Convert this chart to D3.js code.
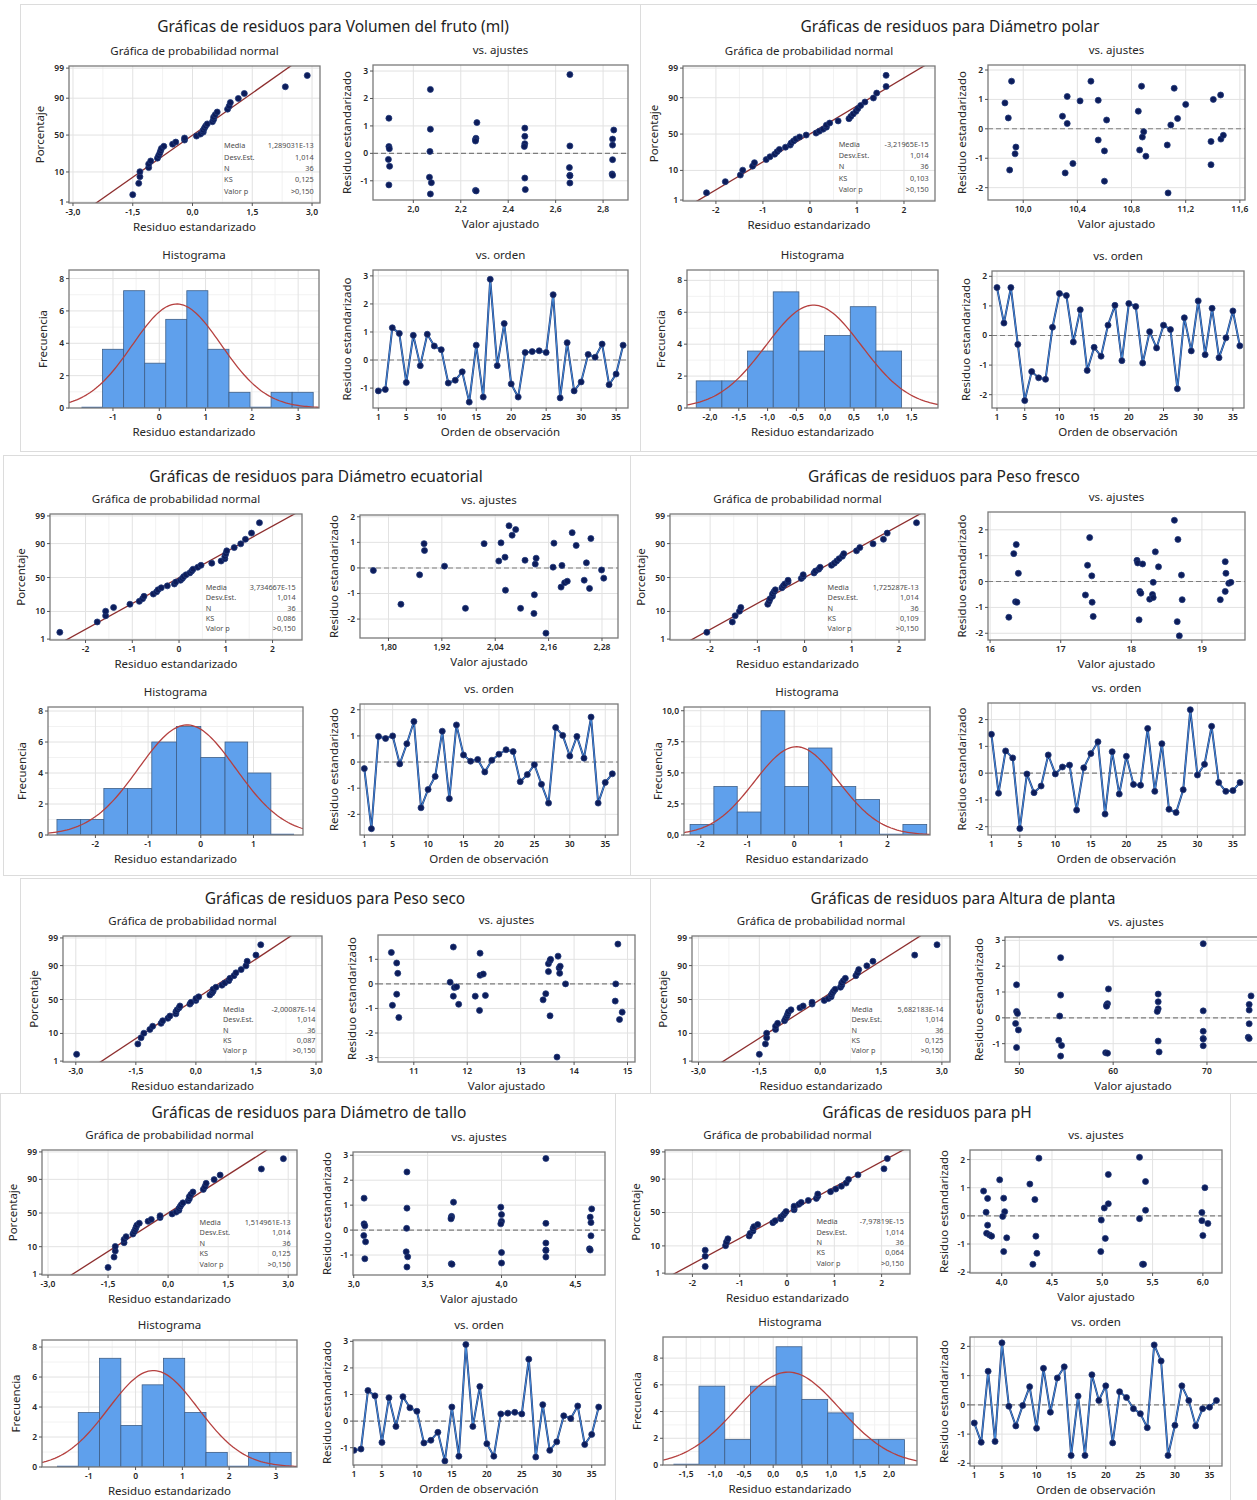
<!DOCTYPE html>
<html>
<head>
<meta charset="utf-8">
<script src="https://cdn.jsdelivr.net/npm/d3@7"></script>
<style>
  body { margin: 0; background: #fff; }
  svg text { font-family: "Noto Sans", "Open Sans", sans-serif; fill: #262626; }
</style>
</head>
<body>
<svg id="chart" width="1257" height="1500"></svg>
<script>
// ---- datos ----

// Volumen del fruto (mismos residuos en Diámetro de tallo y Altura de planta)
const ordenVolumen = [-1.1, -1.05, 1.15, 0.95, -0.8, 0.88, -0.2, 0.92, 0.5, 0.37, -0.82, -0.72, -0.42, -1.5, 0.53, -1.32, 2.88, -0.2,
  1.3, -0.85, -1.32, 0.27, 0.3, 0.33, 0.27, 2.33, -1.35, 0.62, -1.1, -0.78, 0.2, 0.1, 0.57, -0.88, -0.5, 0.53];
const ajusteResidVolumen = [1.28, 0.25, 0.17, -0.22, -0.47, -1.15, 2.33, 0.88, 0.07, -0.87, -1.07, -1.48, 1.12, 0.55, 0.5, 0.45, -1.35, -1.37,
  0.92, 0.62, 0.35, 0.25, -0.9, -1.32, 2.87, 0.27, -0.52, -0.8, -0.82, -1.08, 0.85, 0.52, 0.3, -0.23, -0.75, -0.8];
const ajusteVolumen = [1.897, 1.897, 1.899, 1.895, 1.9, 1.897, 2.072, 2.072, 2.07, 2.068, 2.076, 2.072, 2.268, 2.264, 2.262, 2.262, 2.262, 2.265,
  2.47, 2.47, 2.47, 2.468, 2.47, 2.472, 2.66, 2.66, 2.658, 2.66, 2.66, 2.66, 2.845, 2.84, 2.84, 2.84, 2.838, 2.84];
const ajusteTallo = [3.07, 3.07, 3.075, 3.068, 3.08, 3.075, 3.36, 3.36, 3.358, 3.355, 3.365, 3.36, 3.675, 3.662, 3.66, 3.658, 3.66, 3.665,
  3.995, 4.0, 4.0, 3.995, 4.0, 4.0, 4.3, 4.3, 4.3, 4.3, 4.3, 4.3, 4.61, 4.6, 4.605, 4.605, 4.595, 4.6];
const ajusteAltura = [49.7, 49.7, 49.8, 49.6, 49.9, 49.7, 54.4, 54.4, 54.3, 54.2, 54.5, 54.4, 59.5, 59.4, 59.3, 59.3, 59.2, 59.4,
  64.8, 64.8, 64.8, 64.7, 64.8, 64.9, 69.6, 69.6, 69.6, 69.6, 69.6, 69.6, 74.7, 74.5, 74.5, 74.5, 74.4, 74.5];
const histVolumenBordes = [-1.68, -1.225, -0.77, -0.315, 0.14, 0.595, 1.05, 1.505, 1.96, 2.415, 2.87, 3.325];
const histVolumenAlturas = [0, 3.63, 7.25, 2.77, 5.48, 7.25, 3.63, 0.97, 0, 0.97, 0.97];
const curvaVolumen = [0.38, 0.96, 6.43]; // media, desv., altura máxima

// Diámetro polar
const ordenPolar = [1.62, 0.42, 1.62, -0.3, -2.2, -1.22, -1.43, -1.48, 0.28, 1.42, 1.35, -0.22, 0.87, -1.18, -0.4, -0.7, 0.35, 1.02,
  -0.85, 1.08, 0.98, -0.93, 0.13, -0.42, 0.35, 0.2, -1.8, 0.6, -0.52, 1.17, -0.65, 0.92, -0.75, -0.08, 0.83, -0.35];
const ajustePolar = [9.865, 9.89, 9.914, 9.9, 9.946, 9.94, 10.29, 10.325, 10.325, 10.31, 10.367, 10.42, 10.5, 10.554, 10.554, 10.616, 10.6, 10.6,
  10.85, 10.874, 10.89, 10.88, 10.86, 10.906, 11.064, 11.07, 11.09, 11.115, 11.14, 11.2, 11.387, 11.387, 11.404, 11.458, 11.46, 11.478];
const ajusteResidPolar = [0.88, 0.37, 1.62, -1.4, -0.62, -0.85, 0.43, 1.1, 0.18, -1.5, -1.18, 0.95, 1.62, 0.97, -0.38, 0.3, -0.75, -1.78,
  0.6, 1.45, -0.1, -0.28, -0.72, -0.93, -0.55, -2.18, 0.13, 1.38, 0.35, 0.83, -0.43, -1.22, 1.0, 1.15, -0.35, -0.22];
const histPolarBordes = [-2.24, -1.794, -1.348, -0.902, -0.456, -0.01, 0.436, 0.882, 1.328];
const histPolarAlturas = [1.7, 1.7, 3.57, 7.28, 3.57, 4.54, 6.35, 3.57];
const curvaPolar = [-0.2, 0.83, 6.45];

// Diámetro ecuatorial
const ordenEcuatorial = [-0.25, -2.55, 0.98, 0.9, 1.0, -0.07, 0.7, 1.55, -1.75, -1.05, -0.55, 1.18, -1.4, 1.42, 0.27, 0.03, 0.1, -0.38,
  0.07, 0.3, 0.47, 0.4, -0.75, -0.48, -0.1, -0.85, -1.57, 1.32, 1.02, 0.23, 0.98, 0.15, 1.72, -1.57, -0.78, -0.45];
const ajusteEcuatorial = [1.766, 1.828, 1.87, 1.88, 1.881, 1.926, 1.973, 2.015, 2.048, 2.053, 2.062, 2.063, 2.071, 2.078, 2.086, 2.097, 2.107, 2.127,
  2.128, 2.13, 2.132, 2.154, 2.17, 2.172, 2.188, 2.19, 2.196, 2.202, 2.213, 2.222, 2.24, 2.245, 2.252, 2.255, 2.279, 2.284];
const ajusteResidEcuatorial = [-0.1, -1.42, -0.27, 0.95, 0.68, 0.07, -1.58, 0.95, 0.27, 0.98, 0.42, -0.87, 1.65, 1.28, 1.5, -1.58, 0.3, -1.78,
  -1.05, 0.15, 0.38, -2.55, 0.03, 0.97, -0.75, 0.1, -0.58, -0.52, 1.38, 0.88, -0.48, 0.2, -0.8, 1.15, -0.08, -0.4];
const histEcuatorialBordes = [-2.73, -2.28, -1.84, -1.39, -0.93, -0.46, 0.0, 0.46, 0.89, 1.33, 1.77];
const histEcuatorialAlturas = [1, 1, 3, 3, 6, 7, 5, 6, 4, 0];
const curvaEcuatorial = [-0.26, 0.92, 7.1];

// Peso fresco
const ordenFresco = [1.45, -0.75, 0.83, 0.57, -2.07, -0.03, -0.73, -0.48, 0.68, -0.03, 0.23, 0.3, -1.38, 0.2, 0.73, 1.17, -1.53, 0.8,
  -0.78, 0.63, -0.42, -0.45, 1.67, -0.68, 1.1, -1.35, -1.47, -0.62, 2.37, -0.07, 0.33, 1.75, -0.35, -0.68, -0.65, -0.35];
const ajusteFresco = [16.265, 16.335, 16.37, 16.36, 16.38, 16.4, 17.35, 17.38, 17.41, 17.44, 17.445, 17.46, 18.08, 18.09, 18.11, 18.12, 18.135, 18.16,
  18.26, 18.3, 18.31, 18.31, 18.34, 18.385, 18.61, 18.66, 18.65, 18.68, 18.71, 18.72, 19.26, 19.33, 19.33, 19.34, 19.38, 19.41];
const ajusteResidFresco = [-1.38, 1.08, 1.43, -0.78, -0.8, 0.32, -0.52, 0.63, 1.7, 0.22, -0.8, -1.35, 0.82, 0.72, -1.48, -0.38, -0.45, 0.68,
  -0.68, -0.5, -0.62, -0.03, 1.15, 0.57, 2.37, 1.63, -1.55, -2.1, 0.25, -0.7, -0.7, -0.38, 0.77, 0.32, -0.07, -0.03];
const histFrescoBordes = [-2.23, -1.72, -1.22, -0.71, -0.2, 0.31, 0.81, 1.32, 1.83, 2.33, 2.84];
const histFrescoAlturas = [0.85, 3.9, 1.85, 10, 3.9, 7, 3.9, 2.85, 0, 0.85];
const curvaFresco = [0.05, 0.9, 7.1];

// Peso seco (solo gráficas superiores)
const ajusteSeco = [10.58, 10.68, 10.7, 10.68, 10.6, 10.72, 11.68, 11.74, 11.76, 11.8, 11.74, 11.84, 12.15, 12.24, 12.24, 12.3, 12.34, 12.23,
  13.42, 13.47, 13.52, 13.55, 13.56, 13.52, 13.55, 13.68, 13.7, 13.72, 13.74, 13.73, 13.84, 14.78, 14.82, 14.77, 14.9, 14.85];
const ajusteResidSeco = [1.28, 0.85, 0.43, -0.42, -0.87, -1.37, 0.07, 1.5, -0.15, -0.12, -0.5, -0.83, -0.5, 1.25, 0.35, 0.4, -0.47, -1.08,
  -0.65, -0.4, 0.82, 0.95, 1.0, 0.5, -1.3, -2.98, 1.13, 0.65, 0.72, 0.43, 0.0, 0.0, 1.62, -0.7, -1.15, -1.45];

// pH
const ordenPH = [-0.62, -1.28, 1.15, -1.25, 2.12, -0.05, -0.72, -0.02, 0.62, -0.8, 1.25, -0.25, 0.92, 1.3, -1.73, 0.3, -1.73, 1.03,
  0.15, 0.65, -1.3, 0.45, 0.25, -0.13, -0.3, -0.78, 2.05, 1.5, -1.73, -0.7, 0.65, 0.15, -0.72, -0.13, -0.08, 0.15];
const ajustePH = [3.82, 3.86, 3.845, 3.86, 3.85, 3.88, 3.9, 3.98, 4.02, 4.03, 4.01, 4.02, 4.05, 4.28, 4.33, 4.37, 4.34, 4.35, 4.31,
  4.99, 5.02, 5.06, 5.06, 5.03, 4.985, 5.37, 5.37, 5.43, 5.43, 5.4, 5.41, 5.99, 6.02, 5.99, 6.05, 6.0];
const ajusteResidPH = [0.88, 0.62, 0.13, -0.33, -0.62, -0.68, -0.72, 1.28, 0.63, 0.15, -0.02, -1.27, -0.78, 1.13, 0.58, 2.05, -0.72, -1.33, -1.72,
  -0.15, 0.28, 0.43, 1.47, -0.8, -1.27, 2.08, -0.1, 1.22, 0.2, -1.72, -1.72, 0.12, 1.0, -0.17, -0.27, -0.7];
const histPHBordes = [-1.72, -1.28, -0.835, -0.39, 0.05, 0.495, 0.94, 1.38, 1.82, 2.265];
const histPHAlturas = [0, 5.9, 1.9, 5.9, 8.85, 4.9, 3.9, 1.9, 1.9];
const curvaPH = [0.26, 0.89, 6.95];

// cuadros de estadísticos
const estadNombres = ["Media", "Desv.Est.", "N", "KS", "Valor p"];
const estadVolumen = ["1,289031E-13", "1,014", "36", "0,125", ">0,150"];
const estadPolar = ["-3,21965E-15", "1,014", "36", "0,103", ">0,150"];
const estadEcuatorial = ["3,734667E-15", "1,014", "36", "0,086", ">0,150"];
const estadFresco = ["1,725287E-13", "1,014", "36", "0,109", ">0,150"];
const estadSeco = ["-2,00087E-14", "1,014", "36", "0,087", ">0,150"];
const estadAltura = ["5,682183E-14", "1,014", "36", "0,125", ">0,150"];
const estadTallo = ["1,514961E-13", "1,014", "36", "0,125", ">0,150"];
const estadPH = ["-7,97819E-15", "1,014", "36", "0,064", ">0,150"];

const probPorcentajes = [1, 10, 50, 90, 99];
const ordenTicks = [1, 5, 10, 15, 20, 25, 30, 35];

// ---- utilidades ----
const svg = d3.select("#chart");
const loc = d3.formatLocale({ decimal: ",", thousands: ".", grouping: [3], currency: ["", ""], minus: "-" });
const fmt = dec => loc.format(`.${dec}f`);
let nClip = 0;

// inversa de la normal (aproximación de Acklam)
function probit(p) {
  const a = [-39.69683028665376, 220.9460984245205, -275.9285104469687, 138.3577518672690, -30.66479806614716, 2.506628277459239];
  const b = [-54.47609879822406, 161.5858368580409, -155.6989798598866, 66.80131188771972, -13.28068155288572];
  const c = [-0.007784894002430293, -0.3223964580411365, -2.400758277161838, -2.549732539343734, 4.374664141464968, 2.938163982698783];
  const d = [0.007784695709041462, 0.3224671290700398, 2.445134137142996, 3.754408661907416];
  const lo = 0.02425;
  if (p < lo) {
    const q = Math.sqrt(-2 * Math.log(p));
    return (((((c[0] * q + c[1]) * q + c[2]) * q + c[3]) * q + c[4]) * q + c[5]) / ((((d[0] * q + d[1]) * q + d[2]) * q + d[3]) * q + 1);
  }
  if (p > 1 - lo) return -probit(1 - p);
  const q = p - 0.5, r = q * q;
  return (((((a[0] * r + a[1]) * r + a[2]) * r + a[3]) * r + a[4]) * r + a[5]) * q /
    (((((b[0] * r + b[1]) * r + b[2]) * r + b[3]) * r + b[4]) * r + 1);
}

const medios = t => t.slice(1).map((d, i) => (d + t[i]) / 2);

// marco de una gráfica: rejilla, borde, marcas, rótulos
function marco(f, xDom, yDom, o) {
  const [x0, y0, w, h] = f;
  const x = d3.scaleLinear().domain(xDom).range([x0, x0 + w]);
  const y = d3.scaleLinear().domain(yDom).range([y0 + h, y0]);
  const g = svg.append("g");
  const vert = (vals, col) => g.append("g").selectAll("line").data(vals.filter(d => x(d) > x0 && x(d) < x0 + w)).join("line")
    .attr("x1", d => x(d)).attr("x2", d => x(d)).attr("y1", y0).attr("y2", y0 + h).attr("stroke", col);
  const hori = (vals, col) => g.append("g").selectAll("line").data(vals.filter(d => y(d) > y0 && y(d) < y0 + h)).join("line")
    .attr("y1", d => y(d)).attr("y2", d => y(d)).attr("x1", x0).attr("x2", x0 + w).attr("stroke", col);
  if (o.xMenor) vert(o.xMenor, "#f2f2f2");
  if (o.yMenor) hori(o.yMenor, "#f2f2f2");
  vert(o.xt, "#e2e2e2");
  hori(o.yt, "#e2e2e2");

  const id = "clip" + (nClip++);
  g.append("clipPath").attr("id", id).append("rect").attr("x", x0).attr("y", y0).attr("width", w).attr("height", h);
  const marcas = g.append("g").attr("clip-path", `url(#${id})`);

  g.append("rect").attr("x", x0).attr("y", y0).attr("width", w).attr("height", h)
    .attr("fill", "none").attr("stroke", "#7a7a7a").attr("stroke-width", 1.3);

  // marcas y etiquetas del eje x
  g.append("g").selectAll("line").data(o.xt).join("line")
    .attr("x1", d => x(d)).attr("x2", d => x(d)).attr("y1", y0 + h).attr("y2", y0 + h + 3).attr("stroke", "#555");
  g.append("g").selectAll("text").data(o.xt).join("text")
    .attr("x", d => x(d)).attr("y", y0 + h + 12).attr("text-anchor", "middle")
    .attr("font-size", 8.5).attr("font-weight", 600).text(o.xFmt);
  // marcas y etiquetas del eje y
  g.append("g").selectAll("line").data(o.yt).join("line")
    .attr("y1", d => y(d)).attr("y2", d => y(d)).attr("x1", x0 - 3).attr("x2", x0).attr("stroke", "#555");
  g.append("g").selectAll("text").data(o.yt).join("text")
    .attr("x", x0 - 5).attr("y", d => y(d)).attr("dy", "0.35em").attr("text-anchor", "end")
    .attr("font-size", 8.5).attr("font-weight", 600).text(o.yFmt);

  // títulos
  g.append("text").attr("x", x0 + w / 2).attr("y", y0 - 11).attr("text-anchor", "middle")
    .attr("font-size", 11.5).text(o.sub);
  g.append("text").attr("x", x0 + Math.min(w, 1257 - x0) / 2 + (o.xTitDx || 0)).attr("y", y0 + h + 28).attr("text-anchor", "middle")
    .attr("font-size", 11.5).text(o.xTit);
  g.append("text").attr("transform", `translate(${x0 - (o.yTitOff || 22)},${y0 + h / 2}) rotate(-90)`)
    .attr("text-anchor", "middle").attr("font-size", 11.5).text(o.yTit);

  return { x, y, marcas, g };
}

function puntos(sel, xs, ys, x, y) {
  sel.append("g").selectAll("circle").data(xs).join("circle")
    .attr("cx", d => x(d)).attr("cy", (d, i) => y(ys[i])).attr("r", 3)
    .attr("fill", "#0c1c5a").attr("stroke", "#223a7a").attr("stroke-width", 0.8);
}

function lineaCero(sel, x, y) {
  const [a, b] = x.domain();
  sel.append("line").attr("x1", x(a)).attr("x2", x(b)).attr("y1", y(0)).attr("y2", y(0))
    .attr("stroke", "#7d7d7d").attr("stroke-width", 1.1).attr("stroke-dasharray", "5,3");
}

// ---- gráficas ----
function graficaProb(c, resid, estad) {
  const zDom = [-2.36, 2.40];
  const m = marco(c.f, c.x, zDom, {
    xt: c.xt, yt: probPorcentajes.map(p => probit(p / 100)), xMenor: medios(c.xt),
    xFmt: fmt(c.dec), yFmt: (d, i) => probPorcentajes[i],
    sub: "Gráfica de probabilidad normal", xTit: "Residuo estandarizado", yTit: "Porcentaje", yTitOff: 25
  });
  const orden = resid.slice().sort(d3.ascending);
  const n = orden.length;
  const z = orden.map((d, i) => probit((i + 1 - 0.3) / (n + 0.4)));
  const media = d3.mean(resid), de = d3.deviation(resid);
  m.marcas.append("line")
    .attr("x1", m.x(media - 3 * de)).attr("y1", m.y(-3))
    .attr("x2", m.x(media + 3 * de)).attr("y2", m.y(3))
    .attr("stroke", "#8e2f2f").attr("stroke-width", 1.3);
  puntos(m.marcas, orden, z, m.x, m.y);

  const [x0, y0, w, h] = c.f;
  const caja = m.g.append("g").attr("font-size", 7.3);
  estadNombres.forEach((t, i) => {
    const yy = y0 + h * (0.6 + i * 0.083);
    caja.append("text").attr("x", x0 + w * 0.618).attr("y", yy).attr("fill", "#4d4d4d").style("fill", "#4d4d4d").text(t);
    caja.append("text").attr("x", x0 + w * 0.975).attr("y", yy).attr("text-anchor", "end").style("fill", "#4d4d4d").text(estad[i]);
  });
}

function graficaAjustes(c) {
  const m = marco(c.f, c.x, c.y, {
    xt: c.xt, yt: c.yt, xFmt: fmt(c.dec), yFmt: fmt(0),
    sub: "vs. ajustes", xTit: "Valor ajustado", yTit: "Residuo estandarizado", xTitDx: c.xTitDx
  });
  lineaCero(m.marcas, m.x, m.y);
  puntos(m.marcas, c.px, c.py, m.x, m.y);
}

function graficaHist(c) {
  const m = marco(c.f, c.x, c.y, {
    xt: c.xt, yt: c.yt, xMenor: medios(c.xt), yMenor: medios(c.yt),
    xFmt: fmt(c.dec), yFmt: fmt(c.ydec),
    sub: "Histograma", xTit: "Residuo estandarizado", yTit: "Frecuencia"
  });
  const bins = c.alturas.map((a, i) => ({ x0: c.bordes[i], x1: c.bordes[i + 1], a }));
  m.marcas.append("g").selectAll("rect").data(bins.filter(b => b.a > 0)).join("rect")
    .attr("x", b => m.x(b.x0)).attr("width", b => m.x(b.x1) - m.x(b.x0))
    .attr("y", b => m.y(b.a)).attr("height", b => m.y(0) - m.y(b.a))
    .attr("fill", "#5fa0ec").attr("stroke", "#3e5f88").attr("stroke-width", 0.8);
  m.marcas.append("g").selectAll("line").data(bins.filter(b => b.a === 0)).join("line")
    .attr("x1", b => m.x(b.x0)).attr("x2", b => m.x(b.x1)).attr("y1", m.y(0) - 0.5).attr("y2", m.y(0) - 0.5)
    .attr("stroke", "#3f6fb0").attr("stroke-width", 1.5);
  const [mu, s, pico] = c.curva;
  const xs = d3.range(c.x[0], c.x[1] + 0.01, (c.x[1] - c.x[0]) / 120);
  m.marcas.append("path")
    .attr("d", d3.line().x(d => m.x(d)).y(d => m.y(pico * Math.exp(-((d - mu) ** 2) / (2 * s * s))))(xs))
    .attr("fill", "none").attr("stroke", "#b5403f").attr("stroke-width", 1.3);
}

function graficaOrden(c, resid) {
  const m = marco(c.f, c.x, c.y, {
    xt: ordenTicks, yt: c.yt, xFmt: fmt(0), yFmt: fmt(0),
    sub: "vs. orden", xTit: "Orden de observación", yTit: "Residuo estandarizado"
  });
  lineaCero(m.marcas, m.x, m.y);
  const obs = resid.map((d, i) => i + 1);
  const linea = d3.line().x((d, i) => m.x(i + 1)).y(d => m.y(d));
  m.marcas.append("path").attr("d", linea(resid)).attr("fill", "none").attr("stroke", "#1d3270").attr("stroke-width", 2);
  m.marcas.append("path").attr("d", linea(resid)).attr("fill", "none").attr("stroke", "#4a98ea").attr("stroke-width", 0.9);
  puntos(m.marcas, obs, resid, m.x, m.y);
}

// ---- disposición de los paneles ----
const paneles = [
  { titulo: "Gráficas de residuos para Volumen del fruto (ml)", centro: [333, 32], borde: [20, 4, 620, 447],
    resid: ordenVolumen, estad: estadVolumen,
    prob: { f: [69, 66, 251, 137], x: [-3.1, 3.2], xt: [-3, -1.5, 0, 1.5, 3], dec: 1 },
    aj: { f: [373, 65, 255, 135], x: [1.83, 2.905], xt: [2.0, 2.2, 2.4, 2.6, 2.8], dec: 1, y: [-1.7, 3.22], yt: [-1, 0, 1, 2, 3], px: ajusteVolumen, py: ajusteResidVolumen },
    hist: { f: [69, 270, 250, 138], x: [-1.95, 3.45], xt: [-1, 0, 1, 2, 3], dec: 0, y: [0, 8.53], yt: [0, 2, 4, 6, 8], ydec: 0,
      bordes: histVolumenBordes, alturas: histVolumenAlturas, curva: curvaVolumen },
    ord: { f: [373, 270, 255, 138], x: [0.24, 36.7], y: [-1.71, 3.21], yt: [-1, 0, 1, 2, 3] } },
  { titulo: "Gráficas de residuos para Diámetro polar", centro: [950, 32], borde: [640, 4, 620, 447],
    resid: ordenPolar, estad: estadPolar,
    prob: { f: [683, 66, 252, 135], x: [-2.7, 2.66], xt: [-2, -1, 0, 1, 2], dec: 0 },
    aj: { f: [988, 65, 257, 135], x: [9.74, 11.638], xt: [10.0, 10.4, 10.8, 11.2, 11.6], dec: 1, y: [-2.42, 2.17], yt: [-2, -1, 0, 1, 2], px: ajustePolar, py: ajusteResidPolar },
    hist: { f: [687, 270, 251, 138], x: [-2.4, 1.96], xt: [-2, -1.5, -1, -0.5, 0, 0.5, 1, 1.5], dec: 1, y: [0, 8.65], yt: [0, 2, 4, 6, 8], ydec: 0,
      bordes: histPolarBordes, alturas: histPolarAlturas, curva: curvaPolar },
    ord: { f: [992, 271, 252, 137], x: [0.28, 36.6], y: [-2.45, 2.18], yt: [-2, -1, 0, 1, 2] } },
  { titulo: "Gráficas de residuos para Diámetro ecuatorial", centro: [316, 482], borde: [3, 455, 627, 420],
    resid: ordenEcuatorial, estad: estadEcuatorial,
    prob: { f: [50, 514, 252, 126], x: [-2.76, 2.63], xt: [-2, -1, 0, 1, 2], dec: 0 },
    aj: { f: [360, 515, 258, 123], x: [1.736, 2.316], xt: [1.80, 1.92, 2.04, 2.16, 2.28], dec: 2, y: [-2.74, 2.07], yt: [-2, -1, 0, 1, 2], px: ajusteEcuatorial, py: ajusteResidEcuatorial },
    hist: { f: [48, 707, 255, 128], x: [-2.9, 1.94], xt: [-2, -1, 0, 1], dec: 0, y: [0, 8.26], yt: [0, 2, 4, 6, 8], ydec: 0,
      bordes: histEcuatorialBordes, alturas: histEcuatorialAlturas, curva: curvaEcuatorial },
    ord: { f: [360, 704, 258, 131], x: [0.39, 36.8], y: [-2.79, 2.22], yt: [-2, -1, 0, 1, 2] } },
  { titulo: "Gráficas de residuos para Peso fresco", centro: [944, 482], borde: [630, 455, 630, 420],
    resid: ordenFresco, estad: estadFresco,
    prob: { f: [670, 514, 255, 126], x: [-2.85, 2.55], xt: [-2, -1, 0, 1, 2], dec: 0 },
    aj: { f: [988, 512, 257, 128], x: [15.97, 19.61], xt: [16, 17, 18, 19], dec: 0, y: [-2.26, 2.69], yt: [-2, -1, 0, 1, 2], px: ajusteFresco, py: ajusteResidFresco },
    hist: { f: [684, 707, 246, 128], x: [-2.36, 2.91], xt: [-2, -1, 0, 1, 2], dec: 0, y: [0, 10.3], yt: [0, 2.5, 5, 7.5, 10], ydec: 1,
      bordes: histFrescoBordes, alturas: histFrescoAlturas, curva: curvaFresco },
    ord: { f: [988, 703, 257, 132], x: [0.52, 36.7], y: [-2.31, 2.62], yt: [-2, -1, 0, 1, 2] } },
  { titulo: "Gráficas de residuos para Peso seco", centro: [335, 904], borde: [20, 878, 630, 215],
    resid: ajusteResidSeco, estad: estadSeco,
    prob: { f: [63, 936, 259, 126], x: [-3.32, 3.15], xt: [-3, -1.5, 0, 1.5, 3], dec: 1 },
    aj: { f: [378, 935, 257, 127], x: [10.33, 15.14], xt: [11, 12, 13, 14, 15], dec: 0, y: [-3.18, 1.99], yt: [-3, -2, -1, 0, 1], px: ajusteSeco, py: ajusteResidSeco } },
  { titulo: "Gráficas de residuos para Altura de planta", centro: [963, 904], borde: [650, 878, 615, 215],
    resid: ordenVolumen, estad: estadAltura,
    prob: { f: [692, 936, 258, 126], x: [-3.16, 3.2], xt: [-3, -1.5, 0, 1.5, 3], dec: 1 },
    aj: { f: [1005, 937, 262, 125], x: [48.47, 76.4], xt: [50, 60, 70], dec: 0, y: [-1.71, 3.13], yt: [-1, 0, 1, 2, 3], px: ajusteAltura, py: ajusteResidVolumen, xTitDx: 2 } },
  { titulo: "Gráficas de residuos para Diámetro de tallo", centro: [309, 1118], borde: [0, 1093, 615, 407],
    resid: ordenVolumen, estad: estadTallo,
    prob: { f: [42, 1150, 255, 125], x: [-3.15, 3.22], xt: [-3, -1.5, 0, 1.5, 3], dec: 1 },
    aj: { f: [353, 1152, 252, 123], x: [2.995, 4.70], xt: [3.0, 3.5, 4.0, 4.5], dec: 1, y: [-1.8, 3.13], yt: [-1, 0, 1, 2, 3], px: ajusteTallo, py: ajusteResidVolumen },
    hist: { f: [42, 1340, 255, 127], x: [-2.0, 3.45], xt: [-1, 0, 1, 2, 3], dec: 0, y: [0, 8.47], yt: [0, 2, 4, 6, 8], ydec: 0,
      bordes: histVolumenBordes, alturas: histVolumenAlturas, curva: curvaVolumen },
    ord: { f: [353, 1340, 252, 125], x: [0.86, 36.9], y: [-1.65, 3.05], yt: [-1, 0, 1, 2, 3] } },
  { titulo: "Gráficas de residuos para pH", centro: [927, 1118], borde: [615, 1093, 615, 407],
    resid: ordenPH, estad: estadPH,
    prob: { f: [665, 1150, 245, 124], x: [-2.58, 2.6], xt: [-2, -1, 0, 1, 2], dec: 0 },
    aj: { f: [970, 1150, 252, 123], x: [3.685, 6.19], xt: [4.0, 4.5, 5.0, 5.5, 6.0], dec: 1, y: [-2.03, 2.34], yt: [-2, -1, 0, 1, 2], px: ajustePH, py: ajusteResidPH },
    hist: { f: [663, 1337, 254, 128], x: [-1.9, 2.48], xt: [-1.5, -1, -0.5, 0, 0.5, 1, 1.5, 2], dec: 1, y: [0, 9.58], yt: [0, 2, 4, 6, 8], ydec: 0,
      bordes: histPHBordes, alturas: histPHAlturas, curva: curvaPH },
    ord: { f: [970, 1337, 252, 129], x: [0.38, 36.8], y: [-2.09, 2.32], yt: [-2, -1, 0, 1, 2] } }
];

paneles.forEach(p => {
  const [bx, by, bw, bh] = p.borde;
  svg.append("rect").attr("x", bx + 0.5).attr("y", by + 0.5).attr("width", bw).attr("height", bh)
    .attr("fill", "#fff").attr("stroke", "#dcdcdc");
});

paneles.forEach(p => {
  svg.append("text").attr("x", p.centro[0]).attr("y", p.centro[1]).attr("text-anchor", "middle")
    .attr("font-size", 15.5).style("fill", "#1e1e1e").text(p.titulo);
  graficaProb(p.prob, p.resid, p.estad);
  graficaAjustes(p.aj);
  if (p.hist) graficaHist(p.hist);
  if (p.ord) graficaOrden(p.ord, p.resid);
});
</script>
</body>
</html>
